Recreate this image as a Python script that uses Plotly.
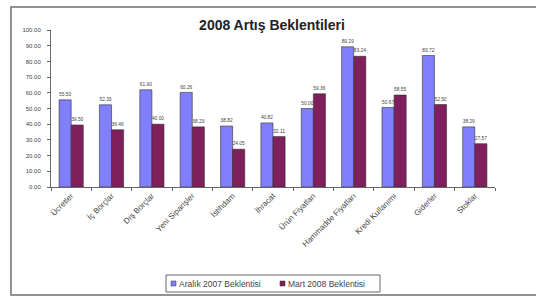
import plotly.graph_objects as go

categories = ["Ücretler", "İç Borçlar", "Dış Borçlar", "Yeni Siparişler", "İstihdam",
              "İhracat", "Ürün Fiyatları", "Hammadde Fiyatları", "Kredi Kullanımı",
              "Giderler", "Stoklar"]
aralik_2007 = [55.50, 52.33, 61.90, 60.26, 38.82, 40.82, 50.00, 89.29, 50.67, 83.72, 38.29]
mart_2008 = [39.50, 36.46, 40.00, 38.29, 24.05, 32.11, 59.36, 83.24, 58.55, 52.50, 27.57]
series_names = ["Aralık 2007 Beklentisi", "Mart 2008 Beklentisi"]
series_colors = ["#8080FF", "#7F1F5C"]
y_ticks = [0, 10, 20, 30, 40, 50, 60, 70, 80, 90, 100]

W, H = 536, 298
L, R, T, B = 51, 41, 30, 111
pw, ph = W - L - R, H - T - B

def px(x):
    return (x - L) / pw

def py(y):
    return (H - B - y) / ph

fig = go.Figure()
for name, vals, col in [(series_names[0], aralik_2007, series_colors[0]),
                        (series_names[1], mart_2008, series_colors[1])]:
    fig.add_trace(go.Bar(
        x=categories, y=vals, name=name,
        marker=dict(color=col, line=dict(color="#303030", width=0.6)),
        text=[f"{v:.2f}" for v in vals], textposition="outside",
        textfont=dict(size=5.5, color="#444444"), cliponaxis=False,
        showlegend=False,
    ))

fig.update_layout(
    width=W, height=H,
    margin=dict(l=L, r=R, t=T, b=B, autoexpand=False),
    paper_bgcolor="white", plot_bgcolor="white",
    font=dict(family="Arial, Liberation Sans, sans-serif", size=6, color="#444444"),
    barmode="group", bargap=0.4, bargroupgap=0.0,
    title=dict(text="<b>2008 Artış Beklentileri</b>", x=px(272), xanchor="center",
               xref="paper", y=1 - 25 / H, yanchor="middle",
               font=dict(size=14, color="#222222")),
    showlegend=False,
    xaxis=dict(showline=True, linecolor="#666666", linewidth=1, ticks="outside",
               tickson="boundaries", ticklen=3, tickcolor="#666666", tickangle=-45,
               tickfont=dict(size=8, color="#444444"), showgrid=False, automargin=False),
    yaxis=dict(range=[0, 100], tickvals=y_ticks, ticktext=[f"{v:.2f}" for v in y_ticks],
               showline=True, linecolor="#666666", linewidth=1, ticks="outside",
               ticklen=3, tickcolor="#666666", showgrid=False, zeroline=False,
               ticklabelstandoff=5, automargin=False,
               tickfont=dict(size=6, color="#444444")),
)

# outer chart frame
fig.add_shape(type="rect", xref="paper", yref="paper",
              x0=px(11), x1=px(545), y0=py(295), y1=py(7),
              line=dict(color="#707070", width=1.5), layer="above")

# legend box
fig.add_shape(type="rect", xref="paper", yref="paper",
              x0=px(166), x1=px(380), y0=py(292), y1=py(275),
              line=dict(color="#666666", width=1), fillcolor="white", layer="above")
legend_sq_x = [171, 280]
legend_tx_x = [177, 286]
for i in range(2):
    fig.add_shape(type="rect", xref="paper", yref="paper",
                  x0=px(legend_sq_x[i]), x1=px(legend_sq_x[i] + 5),
                  y0=py(286), y1=py(281), layer="above",
                  fillcolor=series_colors[i], line=dict(color="#303030", width=0.5))
    fig.add_annotation(xref="paper", yref="paper", x=px(legend_tx_x[i]), y=py(283.5),
                       xanchor="left", yanchor="middle", showarrow=False,
                       text=series_names[i], font=dict(size=8.5, color="#444444"))

fig.write_html("out.html", config={"displayModeBar": False},
               post_script="document.body.style.margin='0';document.body.style.overflow='hidden';")
